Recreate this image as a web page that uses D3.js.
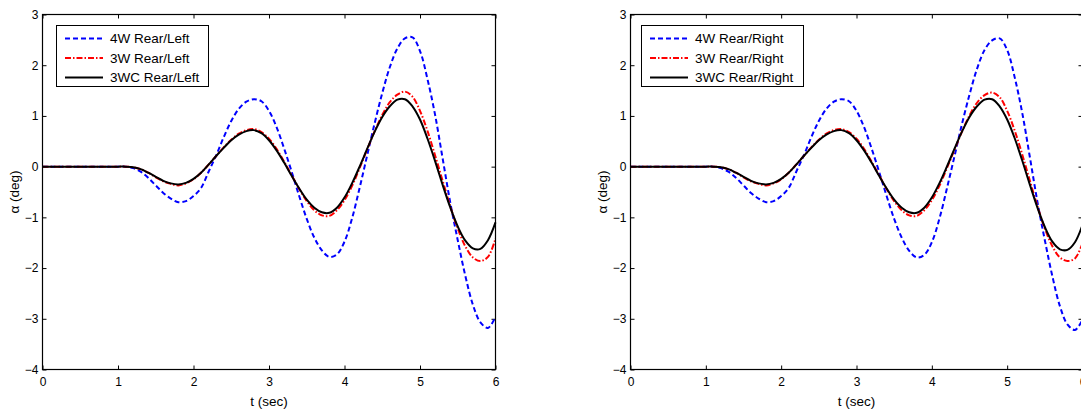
<!DOCTYPE html>
<html>
<head>
<meta charset="utf-8">
<script src="https://cdn.jsdelivr.net/npm/d3@7"></script>
<style>
  body { margin: 0; background: #fff; }
  svg { display: block; font-family: "Liberation Sans", Arial, sans-serif; }
</style>
</head>
<body>
<svg></svg>
<script>
// canvas size
const w = 1081;
const h = 410;

// sample times (sec), every 0.1 s
const tVals = [0, 0.1, 0.2, 0.3, 0.4, 0.5, 0.6, 0.7, 0.8, 0.9,
               1.0, 1.1, 1.2, 1.3, 1.4, 1.5, 1.6, 1.7, 1.8, 1.9,
               2.0, 2.1, 2.2, 2.3, 2.4, 2.5, 2.6, 2.7, 2.8, 2.9,
               3.0, 3.1, 3.2, 3.3, 3.4, 3.5, 3.6, 3.7, 3.8, 3.9,
               4.0, 4.1, 4.2, 4.3, 4.4, 4.5, 4.6, 4.7, 4.8, 4.9,
               5.0, 5.1, 5.2, 5.3, 5.4, 5.5, 5.6, 5.7, 5.8, 5.9, 6.0];

// left panel: slip angle (deg)
const leftFourW = [0, 0, 0, 0, 0, 0, 0, 0, 0, 0,
                   0, 0, -0.03, -0.10, -0.22, -0.37, -0.52, -0.63, -0.70, -0.68,
                   -0.58, -0.42, -0.10, 0.22, 0.58, 0.90, 1.14, 1.28, 1.33, 1.29,
                   1.10, 0.78, 0.36, -0.10, -0.58, -1.03, -1.40, -1.65, -1.78, -1.73,
                   -1.48, -1.02, -0.42, 0.22, 0.86, 1.45, 1.96, 2.33, 2.53, 2.55,
                   2.28, 1.72, 1.02, 0.16, -0.70, -1.45, -2.15, -2.72, -3.07, -3.18, -2.96];
const leftThreeW = [0, 0, 0, 0, 0, 0, 0, 0, 0, 0,
                    0, 0, -0.01, -0.05, -0.12, -0.21, -0.29, -0.34, -0.37, -0.33,
                    -0.25, -0.12, 0.04, 0.21, 0.38, 0.53, 0.65, 0.72, 0.74, 0.68,
                    0.55, 0.35, 0.10, -0.17, -0.44, -0.68, -0.86, -0.96, -0.97, -0.86,
                    -0.66, -0.38, -0.03, 0.34, 0.70, 1.02, 1.27, 1.42, 1.48, 1.38,
                    1.10, 0.70, 0.22, -0.28, -0.78, -1.22, -1.57, -1.79, -1.86, -1.78, -1.42];
const leftThreeWC = [0, 0, 0, 0, 0, 0, 0, 0, 0, 0,
                     0, 0, -0.01, -0.05, -0.12, -0.20, -0.28, -0.33, -0.35, -0.32,
                     -0.24, -0.12, 0.04, 0.21, 0.37, 0.52, 0.63, 0.70, 0.72, 0.66,
                     0.52, 0.32, 0.08, -0.18, -0.43, -0.65, -0.81, -0.90, -0.91, -0.81,
                     -0.61, -0.33, 0.00, 0.35, 0.69, 0.98, 1.19, 1.32, 1.33, 1.19,
                     0.93, 0.55, 0.11, -0.36, -0.80, -1.18, -1.46, -1.61, -1.62, -1.45, -1.10];

// right panel
const rightFourW = [0, 0, 0, 0, 0, 0, 0, 0, 0, 0,
                    0, 0, -0.03, -0.10, -0.22, -0.37, -0.52, -0.63, -0.70, -0.68,
                    -0.58, -0.42, -0.10, 0.22, 0.58, 0.90, 1.14, 1.28, 1.33, 1.29,
                    1.10, 0.78, 0.36, -0.10, -0.58, -1.03, -1.40, -1.66, -1.79, -1.74,
                    -1.49, -1.03, -0.43, 0.20, 0.84, 1.42, 1.93, 2.30, 2.49, 2.53,
                    2.30, 1.76, 1.06, 0.20, -0.68, -1.45, -2.16, -2.75, -3.11, -3.22, -3.02];
const rightThreeW = [0, 0, 0, 0, 0, 0, 0, 0, 0, 0,
                     0, 0, -0.01, -0.05, -0.12, -0.21, -0.29, -0.34, -0.37, -0.33,
                     -0.25, -0.12, 0.04, 0.21, 0.38, 0.53, 0.65, 0.72, 0.74, 0.68,
                     0.55, 0.35, 0.10, -0.17, -0.44, -0.68, -0.86, -0.96, -0.97, -0.86,
                     -0.66, -0.38, -0.03, 0.33, 0.69, 1.01, 1.26, 1.41, 1.46, 1.37,
                     1.10, 0.71, 0.24, -0.27, -0.77, -1.22, -1.57, -1.79, -1.86, -1.81, -1.51];
const rightThreeWC = [0, 0, 0, 0, 0, 0, 0, 0, 0, 0,
                      0, 0, -0.01, -0.05, -0.12, -0.20, -0.28, -0.33, -0.35, -0.32,
                      -0.24, -0.12, 0.04, 0.21, 0.37, 0.52, 0.63, 0.70, 0.72, 0.66,
                      0.52, 0.32, 0.08, -0.18, -0.43, -0.65, -0.81, -0.90, -0.91, -0.81,
                      -0.61, -0.33, 0.00, 0.35, 0.69, 0.98, 1.19, 1.32, 1.33, 1.19,
                      0.93, 0.56, 0.12, -0.35, -0.80, -1.19, -1.48, -1.63, -1.64, -1.49, -1.15];

// labels and ticks
const leftLegend = ["4W Rear/Left", "3W Rear/Left", "3WC Rear/Left"];
const rightLegend = ["4W Rear/Right", "3W Rear/Right", "3WC Rear/Right"];
const xTicks = [0, 1, 2, 3, 4, 5, 6];
const yTicks = [-4, -3, -2, -1, 0, 1, 2, 3];
const xLabel = "t (sec)";
const yLabel = "\u03b1 (deg)";

// line styles for the three vehicles
const styles = [
  { color: "#0000ff", dash: "5,3" },
  { color: "#ff0000", dash: "6,2,1.5,2" },
  { color: "#000000", dash: null }
];

const svg = d3.select("svg")
              .attr("width", w)
              .attr("height", h);

function drawPanel(p) {
  const xScale = d3.scaleLinear().domain([0, 6]).range([p.left, p.right]);
  const yScale = d3.scaleLinear().domain([-4, 3]).range([369.5, 14.5]);
  const g = svg.append("g");

  // ticks on all four sides, pointing inward
  const bottom = g.append("g")
                  .attr("transform", "translate(0," + yScale(-4) + ")")
                  .call(d3.axisBottom(xScale).tickValues(xTicks).tickSize(-4).tickPadding(8).tickFormat(d3.format("d")));
  g.append("g")
   .attr("transform", "translate(0," + yScale(3) + ")")
   .call(d3.axisTop(xScale).tickValues(xTicks).tickSize(-4).tickFormat(""));
  const left = g.append("g")
                .attr("transform", "translate(" + xScale(0) + ",0)")
                .call(d3.axisLeft(yScale).tickValues(yTicks).tickSize(-4).tickPadding(4).tickFormat(d3.format("d")));
  g.append("g")
   .attr("transform", "translate(" + xScale(6) + ",0)")
   .call(d3.axisRight(yScale).tickValues(yTicks).tickSize(-4).tickFormat(""));

  g.selectAll(".domain").remove();
  g.selectAll(".tick line").attr("stroke", "#000");
  g.selectAll(".tick text")
   .attr("fill", "#000")
   .style("font-size", "12px")
   .style("font-family", "'Liberation Sans', Arial, sans-serif");

  // plot lines
  const line = d3.line()
                 .x((d) => xScale(d[0]))
                 .y((d) => yScale(d[1]))
                 .curve(d3.curveCatmullRom.alpha(0.5));

  p.series.forEach((vals, i) => {
    g.append("path")
     .datum(tVals.map((t, k) => [t, vals[k]]))
     .attr("fill", "none")
     .attr("stroke", styles[i].color)
     .attr("stroke-width", 2)
     .attr("stroke-dasharray", styles[i].dash)
     .attr("d", line);
  });

  // box
  g.append("rect")
   .attr("x", xScale(0))
   .attr("y", yScale(3))
   .attr("width", xScale(6) - xScale(0))
   .attr("height", yScale(-4) - yScale(3))
   .attr("fill", "none")
   .attr("stroke", "#000")
   .attr("stroke-width", 1.2);

  // axis titles
  g.append("text")
   .attr("x", (xScale(0) + xScale(6)) / 2)
   .attr("y", 406)
   .attr("text-anchor", "middle")
   .style("font-size", "13.5px")
   .text(xLabel);
  g.append("text")
   .attr("transform", "translate(" + (xScale(0) - 24) + "," + ((yScale(3) + yScale(-4)) / 2) + ") rotate(-90)")
   .attr("text-anchor", "middle")
   .style("font-size", "13.5px")
   .text(yLabel);

  // legend
  const lg = g.append("g");
  lg.append("rect")
    .attr("x", p.legX + 0.5)
    .attr("y", 25.5)
    .attr("width", p.legW)
    .attr("height", 61)
    .attr("fill", "#fff")
    .attr("stroke", "#000")
    .attr("stroke-width", 1);
  p.legend.forEach((name, i) => {
    const yy = 38.5 + i * 19.5;
    lg.append("line")
      .attr("x1", p.legX + 9)
      .attr("x2", p.legX + 47)
      .attr("y1", yy)
      .attr("y2", yy)
      .attr("stroke", styles[i].color)
      .attr("stroke-width", 2)
      .attr("stroke-dasharray", styles[i].dash);
    lg.append("text")
      .attr("x", p.legX + 54)
      .attr("y", yy + 4.5)
      .style("font-size", "13.5px")
      .text(name);
  });
}

drawPanel({ left: 42.5, right: 495.5, series: [leftFourW, leftThreeW, leftThreeWC],
            legend: leftLegend, legX: 56, legW: 152 });
drawPanel({ left: 630.5, right: 1082.5, series: [rightFourW, rightThreeW, rightThreeWC],
            legend: rightLegend, legX: 641, legW: 162 });
</script>
</body>
</html>
